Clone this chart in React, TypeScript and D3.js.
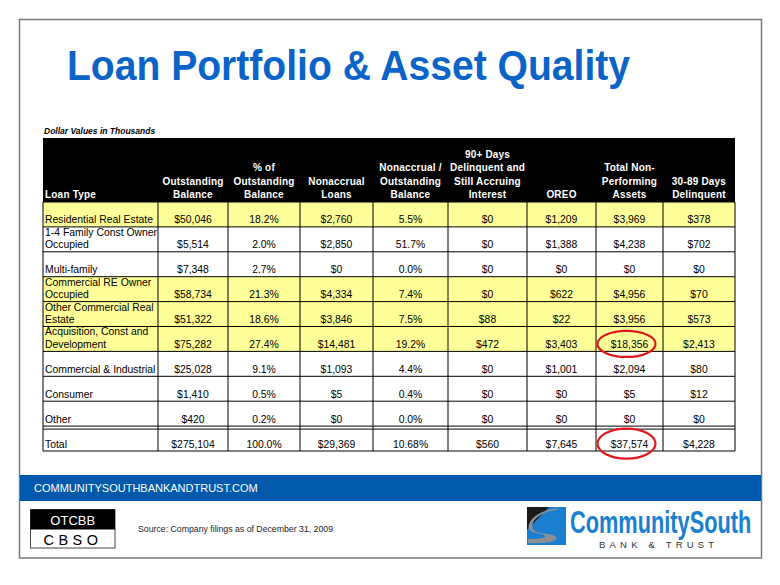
import React from "react";
import * as d3 from "d3";

const loanTypes = [
  "Residential Real Estate",
  "1-4 Family Const Owner\nOccupied",
  "Multi-family",
  "Commercial RE Owner\nOccupied",
  "Other Commercial Real\nEstate",
  "Acquisition, Const and\nDevelopment",
  "Commercial & Industrial",
  "Consumer",
  "Other",
  "Total",
];
const highlightedRows = [true, false, false, true, true, true, false, false, false, false];
const outstandingBalance = [50046, 5514, 7348, 58734, 51322, 75282, 25028, 1410, 420, 275104];
const pctOfOutstanding = [18.2, 2.0, 2.7, 21.3, 18.6, 27.4, 9.1, 0.5, 0.2, 100.0];
const nonaccrualLoans = [2760, 2850, 0, 4334, 3846, 14481, 1093, 5, 0, 29369];
const nonaccrualPct = [5.5, 51.7, 0.0, 7.4, 7.5, 19.2, 4.4, 0.4, 0.0, 10.68];
const delinquent90 = [0, 0, 0, 0, 88, 472, 0, 0, 0, 560];
const oreo = [1209, 1388, 0, 622, 22, 3403, 1001, 0, 0, 7645];
const totalNPA = [3969, 4238, 0, 4956, 3956, 18356, 2094, 5, 0, 37574];
const delinquent3089 = [378, 702, 0, 70, 573, 2413, 80, 12, 0, 4228];

const columnHeaders = [
  ["Loan Type"],
  ["Outstanding", "Balance"],
  ["% of", "Outstanding", "Balance"],
  ["Nonaccrual", "Loans"],
  ["Nonaccrual /", "Outstanding", "Balance"],
  ["90+ Days", "Delinquent and", "Still Accruing", "Interest"],
  ["OREO"],
  ["Total Non-", "Performing", "Assets"],
  ["30-89 Days", "Delinquent"],
];
// [row, column] of circled cells
const circledCells = [[5, 7], [9, 7]];

const money = d3.format("$,");
const pct = (v: number) =>
  (Math.abs(v * 10 - Math.round(v * 10)) < 1e-6 ? v.toFixed(1) : v.toFixed(2)) + "%";

const valueColumns: [number[], (v: number) => string][] = [
  [outstandingBalance, money],
  [pctOfOutstanding, pct],
  [nonaccrualLoans, money],
  [nonaccrualPct, pct],
  [delinquent90, money],
  [oreo, money],
  [totalNPA, money],
  [delinquent3089, money],
];

const colEdges = [43, 158, 228, 300, 373, 448, 527, 596, 663, 735];
const FONT = "'Liberation Sans', Arial, Helvetica, sans-serif";

export default function App() {
  const y = d3.scaleBand<number>().domain(d3.range(loanTypes.length)).range([202, 451]);
  const bw = y.bandwidth();
  const tableL = colEdges[0];
  const tableR = colEdges[colEdges.length - 1];
  const headerTop = 138;
  const headerBottom = 202;
  const lineH = 13.3;
  const colCenter = (i: number) => (colEdges[i] + colEdges[i + 1]) / 2;
  const totalIdx = loanTypes.length - 1;

  return (
    <svg
      width={780}
      height={585}
      style={{ position: "absolute", left: 0, top: 0, display: "block", background: "#fff" }}
      fontFamily={FONT}
    >
      <rect x={0} y={0} width={780} height={585} fill="#fff" />
      {/* frame */}
      <rect x={19.5} y={19.5} width={742} height={538.5} fill="#fff" stroke="#7a7a7a" strokeWidth={1.5} />

      {/* title */}
      <text x={67} y={80} fontSize={42} fontWeight="bold" fill="#0a64c8" textLength={563} lengthAdjust="spacingAndGlyphs">
        Loan Portfolio &amp; Asset Quality
      </text>

      <text x={44} y={134} fontSize={8.5} fontWeight="bold" fontStyle="italic" fill="#000">
        Dollar Values in Thousands
      </text>

      {/* header */}
      <rect x={tableL} y={headerTop} width={tableR - tableL} height={headerBottom - headerTop} fill="#000" />
      {columnHeaders.map((lines, ci) =>
        lines.map((ln, li) => (
          <text
            key={`h${ci}-${li}`}
            x={ci === 0 ? tableL + 2 : colCenter(ci)}
            y={headerBottom - 4 - (lines.length - 1 - li) * lineH}
            fontSize={10}
            fontWeight="bold"
            fill="#fff"
            textAnchor={ci === 0 ? "start" : "middle"}
            letterSpacing={0.2}
          >
            {ln}
          </text>
        ))
      )}

      {/* rows */}
      {loanTypes.map((lt, ri) => {
        const top = y(ri)!;
        const bottom = top + bw;
        const labelLines = lt.split("\n");
        return (
          <g key={`r${ri}`}>
            <rect x={tableL} y={top} width={tableR - tableL} height={bw} fill={highlightedRows[ri] ? "#ffff99" : "#fff"} />
            {labelLines.map((ln, li) => (
              <text
                key={li}
                x={tableL + 2}
                y={bottom - 3.5 - (labelLines.length - 1 - li) * 12.5}
                fontSize={10.4}
                fill="#000"
              >
                {ln}
              </text>
            ))}
            {valueColumns.map(([arr, fmt], ci) => (
              <text key={ci} x={colCenter(ci + 1)} y={bottom - 3.5} fontSize={10.4} fill="#000" textAnchor="middle">
                {fmt(arr[ri])}
              </text>
            ))}
          </g>
        );
      })}

      {/* grid lines */}
      {d3.range(loanTypes.length + 1).map((i) => {
        const yy = i === loanTypes.length ? 451 : y(i)!;
        return <line key={`hl${i}`} x1={tableL} x2={tableR} y1={yy} y2={yy} stroke="#000" strokeWidth={1} />;
      })}
      <line x1={tableL} x2={tableR} y1={y(totalIdx)! + 3} y2={y(totalIdx)! + 3} stroke="#000" strokeWidth={1} />
      {colEdges.map((cx, i) => (
        <line key={`vl${i}`} x1={cx} x2={cx} y1={headerBottom} y2={451} stroke="#000" strokeWidth={1} />
      ))}

      {/* red circles */}
      {circledCells.map(([ri, ci], i) => (
        <ellipse
          key={`c${i}`}
          cx={colCenter(ci) - 3}
          cy={y(ri)! + bw / 2 + 5}
          rx={29}
          ry={ri === totalIdx ? 15 : 13}
          fill="none"
          stroke="#e0191e"
          strokeWidth={2.2}
        />
      ))}

      {/* footer band */}
      <rect x={20} y={475} width={741} height={26} fill="#0059ab" />
      <text x={34} y={492} fontSize={11} fill="#fff">
        COMMUNITYSOUTHBANKANDTRUST.COM
      </text>

      {/* OTCBB box */}
      <rect x={30.5} y={509.5} width={84.5} height={38.5} fill="#fff" stroke="#444" strokeWidth={1} />
      <rect x={30.5} y={509.5} width={84.5} height={20} fill="#000" />
      <text x={72.75} y={525} fontSize={13} fill="#fff" textAnchor="middle">
        OTCBB
      </text>
      <text x={73} y={545} fontSize={14.5} fill="#000" textAnchor="middle" letterSpacing={4.5}>
        CBSO
      </text>

      <text x={138} y={532} fontSize={9} fill="#222" textLength={195} lengthAdjust="spacingAndGlyphs">
        Source: Company filings as of December 31, 2009
      </text>

      {/* logo */}
      <g>
        <polygon points="527,507 566,507 566,545 527,545" fill="#1a7fd0" />
        <polygon points="527,507 549,507 527,530" fill="#1a1a1a" />
        <path
          d="M556,510 C540,512 528,522 534,530 C538,535 552,532 556,537 C559,541 548,544 528,543 L528,539 C543,539 548,537 544,535 C538,532 524,534 530,522 C535,513 548,509 560,508 Z"
          fill="#8a9096"
        />
        <g transform="translate(570,533) scale(0.68,1)">
          <text x={0} y={0} fontSize={32} fontWeight="bold" fill="#1a7fd0">
            CommunitySouth
          </text>
        </g>
        <text x={599} y={548} fontSize={9.5} fill="#333" letterSpacing={4.2}>
          BANK &amp; TRUST
        </text>
      </g>
    </svg>
  );
}
